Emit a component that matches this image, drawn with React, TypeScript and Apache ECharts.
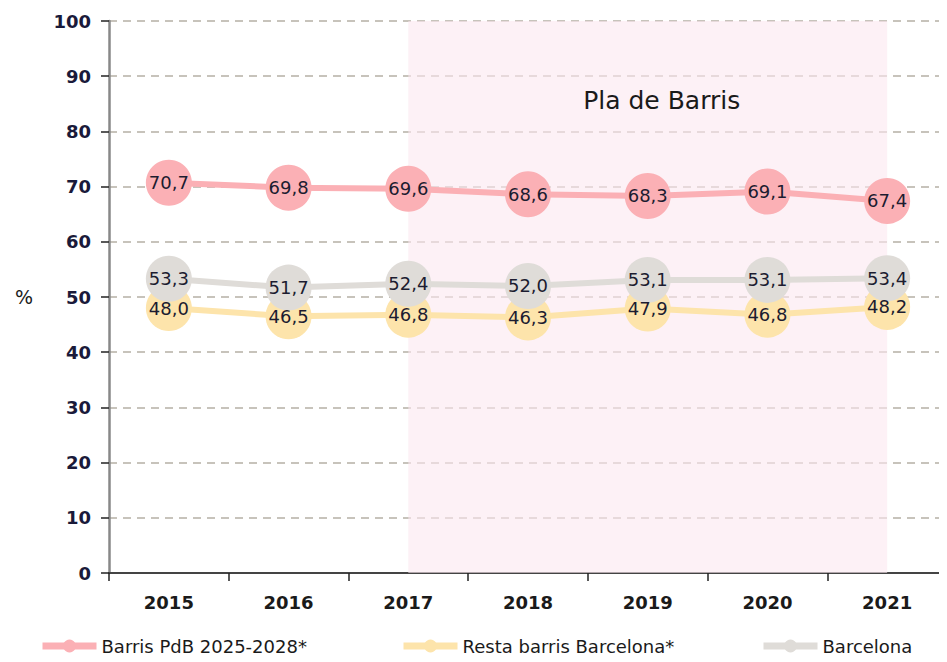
import React, { useEffect, useRef } from "react";
import * as echarts from "echarts";

const years = ["2015", "2016", "2017", "2018", "2019", "2020", "2021"];
const barrisPdB = [70.7, 69.8, 69.6, 68.6, 68.3, 69.1, 67.4];
const restaBarris = [48.0, 46.5, 46.8, 46.3, 47.9, 46.8, 48.2];
const barcelona = [53.3, 51.7, 52.4, 52.0, 53.1, 53.1, 53.4];
const seriesNames = ["Barris PdB 2025-2028*", "Resta barris Barcelona*", "Barcelona"];
const areaLabel = "Pla de Barris";
const areaFrom = "2017";
const areaTo = "2021";

const FONT = "'DejaVu Sans', sans-serif";

export default function App() {
  const ref = useRef<HTMLDivElement>(null);
  useEffect(() => {
    if (!ref.current) return;
    const chart = echarts.init(ref.current, undefined, { renderer: "svg" });
    const fmt = (p: any) => Number(p.value).toFixed(1).replace(".", ",");
    const mk = (name: string, data: number[], color: string, extra: any = {}) => ({
      name,
      type: "line",
      data,
      symbol: "circle",
      symbolSize: 46,
      itemStyle: { color },
      lineStyle: { color, width: 6 },
      label: {
        show: true,
        position: "inside",
        formatter: fmt,
        color: "#1c1c30",
        fontSize: 18,
        fontFamily: FONT,
      },
      z: 3,
      ...extra,
    });
    const legendText = { fontSize: 18, color: "#1a1a1a", fontFamily: FONT };
    const lg = (name: string, left: number) => ({
      bottom: 2,
      left,
      itemWidth: 54,
      itemHeight: 16,
      lineStyle: { width: 7 },
      textStyle: legendText,
      data: [name],
    });
    chart.setOption({
      animation: false,
      textStyle: { fontFamily: FONT },
      grid: { left: 101, right: 0, top: 13, bottom: 89 },
      legend: [lg(seriesNames[0], 26), lg(seriesNames[1], 387), lg(seriesNames[2], 747)],
      xAxis: {
        type: "category",
        data: years,
        boundaryGap: true,
        axisLine: { lineStyle: { color: "#444", width: 2 } },
        axisTick: { show: true, length: 8, lineStyle: { color: "#222", width: 1.5 } },
        axisLabel: { fontSize: 18, fontWeight: "bold", color: "#1a1a1a", margin: 20, fontFamily: FONT },
      },
      yAxis: {
        type: "value",
        min: 0,
        max: 100,
        interval: 10,
        name: "%",
        nameLocation: "middle",
        nameRotate: 0,
        nameGap: 76,
        nameTextStyle: { fontSize: 19, color: "#1a1a1a", fontFamily: FONT },
        axisLine: { show: true, lineStyle: { color: "#888", width: 2.5 } },
        axisTick: { show: true, length: 8, lineStyle: { color: "#222", width: 1.5 } },
        axisLabel: { fontSize: 18, fontWeight: "bold", color: "#1a1a3a", margin: 18, fontFamily: FONT },
        splitLine: { show: true, lineStyle: { color: "#b5b0a5", type: [8, 6], width: 1.5 } },
      },
      series: [
        mk(seriesNames[0], barrisPdB, "#fbb0b5", {
          markArea: {
            silent: true,
            itemStyle: { color: "rgba(252,232,240,0.6)" },
            label: {
              show: true,
              position: "insideTop",
              distance: 67,
              offset: [14, 0],
              fontSize: 25,
              color: "#1a1a1a",
              fontFamily: FONT,
            },
            data: [[{ xAxis: areaFrom, name: areaLabel }, { xAxis: areaTo }]],
          },
        }),
        mk(seriesNames[1], restaBarris, "#fde4ab"),
        mk(seriesNames[2], barcelona, "#dfdcd8"),
      ],
    });
    return () => chart.dispose();
  }, []);
  return <div ref={ref} style={{ width: 939, height: 654 }} />;
}
